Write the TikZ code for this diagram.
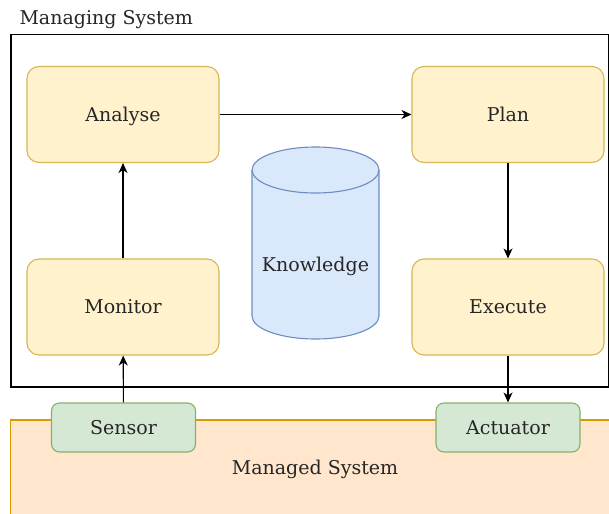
\documentclass[tikz,border=0pt]{standalone}
\usepackage{fontspec}
\setmainfont{DejaVu Serif}
\usetikzlibrary{arrows.meta}
\definecolor{ylwfill}{HTML}{FFF2CC}
\definecolor{ylwdraw}{HTML}{D6B656}
\definecolor{blufill}{HTML}{DAE8FC}
\definecolor{bludraw}{HTML}{6C8EBF}
\definecolor{grnfill}{HTML}{D5E8D4}
\definecolor{grndraw}{HTML}{82B366}
\definecolor{orgfill}{HTML}{FFE6CC}
\definecolor{orgdraw}{HTML}{D79B00}
\definecolor{txt}{HTML}{262626}
\tikzset{
  lbl/.style={font=\fontsize{19}{22}\selectfont, text=txt, text height=13.85pt, text depth=0pt},
  mapek/.style={lbl, draw=ylwdraw, fill=ylwfill, rounded corners=12pt, line width=1.1pt,
    minimum width=192pt, minimum height=96pt},
  probe/.style={lbl, draw=grndraw, fill=grnfill, rounded corners=8pt, line width=1.1pt,
    minimum width=144pt, minimum height=49pt},
  flow/.style={-{Stealth[length=10pt,width=9pt,inset=3pt]}, line width=1.1pt, black}
}
\begin{document}
\begin{tikzpicture}[x=1pt,y=-1pt]
\useasboundingbox (0,0) rectangle (609,513);
% managed system and managing system containers
\fill[white] (0,0) rectangle (609,513);
\draw[draw=orgdraw, fill=orgfill, line width=1.1pt] (10.5,420) rectangle (612,518);
\draw[line width=1.1pt, black] (11,34.5) rectangle (608.5,387);
\node[lbl, anchor=west] (mgtitle) at (16,18) {Managing System};
\node[lbl] (mdtitle) at (315,467.5) {Managed System};
% loop stages
\node[mapek] (analyse) at (123,114.5) {Analyse};
\node[mapek] (plan) at (508,114.5) {Plan};
\node[mapek] (monitor) at (123,307) {Monitor};
\node[mapek] (execute) at (508,307) {Execute};
% knowledge store
\draw[draw=bludraw, fill=blufill, line width=1.1pt]
  (252,170) -- (252,316) arc[start angle=180, end angle=360, x radius=63.5pt, y radius=23pt]
  -- (379,170) arc[start angle=0, end angle=180, x radius=63.5pt, y radius=23pt];
\draw[draw=bludraw, line width=1.1pt] (252,170) arc[start angle=180, end angle=360, x radius=63.5pt, y radius=23pt];
\node[lbl] (knowledge) at (315.5,265) {Knowledge};
% touchpoints
\node[probe] (sensor) at (123.5,427.5) {Sensor};
\node[probe] (actuator) at (508,427.5) {Actuator};
% connectors
\draw[flow] (monitor) -- (analyse);
\draw[flow] (analyse) -- (plan);
\draw[flow] (plan) -- (execute);
\draw[flow] (sensor) -- (monitor);
\draw[flow] (execute) -- (actuator);
\end{tikzpicture}
\end{document}
